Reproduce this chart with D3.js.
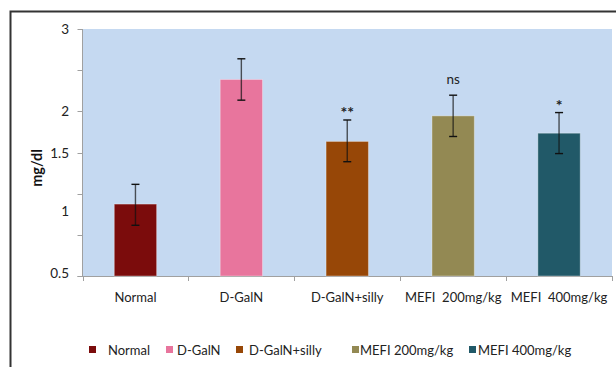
<!DOCTYPE html>
<html><head><meta charset="utf-8">
<script src="https://cdn.jsdelivr.net/npm/d3@7"></script>
<style>
html,body{margin:0;padding:0;background:#fff;}
text{font-family:Lato,"Open Sans",sans-serif;}
</style></head>
<body>
<svg id="chart" width="616" height="367"></svg>
<script>
// ---- data ----
const categories = ["Normal", "D-GalN", "D-GalN+silly", "MEFI  200mg/kg", "MEFI  400mg/kg"];
const legendLabels = ["Normal", "D-GalN", "D-GalN+silly", "MEFI 200mg/kg", "MEFI 400mg/kg"];
const means   = [1.06, 2.39, 1.64, 1.95, 1.74];
const errHigh = [1.23, 2.64, 1.90, 2.20, 1.99];
const errLow  = [0.885, 2.14, 1.425, 1.70, 1.495];
const sigMarks = ["", "", "**", "ns", "*"];
const yTickValues = [0.5, 1, 1.5, 2, 3];
const colors = ["#7b0c0c", "#e8759d", "#974707", "#938953", "#215968"];

// ---- layout ----
const svg = d3.select("#chart");
const pL = 82.5, pR = 612, pT = 29, pB = 276;
const H = pB - pT;
// label positions as fractions of plot height (the original axis is non-uniform)
const labelFrac = [0.012, 0.263, 0.498, 0.665, 1];

// outer frame
svg.append("path").attr("d", `M10.5,367 L10.5,11.5 L616,11.5`)
  .attr("fill", "none").attr("stroke", "#333").attr("stroke-width", 2);

const x = d3.scaleBand().domain(categories).range([pL, pR])
  .paddingInner(0.6).paddingOuter(0.3);
const y = d3.scaleLinear().domain(yTickValues)
  .range(labelFrac.map(f => pB - f * H));

// plot area
svg.append("rect").attr("x", pL).attr("y", pT)
  .attr("width", pR - pL).attr("height", H).attr("fill", "#c5d9f1");

// axes
const axisColor = "#a0a0a0";
svg.append("line").attr("x1", pL).attr("x2", pL).attr("y1", pT).attr("y2", pB)
  .attr("stroke", axisColor);
svg.append("line").attr("x1", pL - 5).attr("x2", pR).attr("y1", pB + 0.5).attr("y2", pB + 0.5)
  .attr("stroke", axisColor);
// equally spaced major tick marks on y
d3.range(7).forEach(i => {
  const yy = Math.round(pB - i * H / 6) + 0.5;
  svg.append("line").attr("x1", pL - 5).attr("x2", pL).attr("y1", yy).attr("y2", yy)
    .attr("stroke", axisColor);
});
// y labels
svg.append("g").selectAll("text").data(yTickValues).join("text")
  .attr("x", 69).attr("y", d => y(d)).attr("dy", "0.35em")
  .attr("text-anchor", "end").attr("font-size", 13.5).attr("fill", "#222")
  .text(d => d);
// x tick marks at band boundaries
const step = x.step();
d3.range(categories.length + 1).forEach(i => {
  const xx = Math.round(pL + i * step) + 0.5;
  svg.append("line").attr("x1", xx).attr("x2", xx).attr("y1", pB).attr("y2", pB + 5)
    .attr("stroke", axisColor);
});
svg.append("g").selectAll("text").data(categories).join("text")
  .attr("x", d => x(d) + x.bandwidth() / 2).attr("y", 297.5).attr("dy", "0.35em")
  .attr("text-anchor", "middle").attr("font-size", 13).attr("fill", "#222")
  .attr("xml:space", "preserve").style("white-space", "pre")
  .text(d => d);

// y title
svg.append("text").attr("transform", "translate(37,168) rotate(-90)")
  .attr("text-anchor", "middle").attr("dy", "0.35em")
  .attr("font-size", 14.5).attr("font-weight", "bold").attr("fill", "#111")
  .text("mg/dl");

// bars
svg.append("g").selectAll("rect").data(categories).join("rect")
  .attr("x", d => x(d)).attr("width", x.bandwidth())
  .attr("y", (d, i) => y(means[i])).attr("height", (d, i) => pB - y(means[i]))
  .attr("fill", (d, i) => colors[i])
  .attr("stroke", "rgba(255,255,255,0.35)").attr("stroke-width", 1);

// error bars
const eg = svg.append("g").attr("stroke", "#111").attr("stroke-width", 1.4);
categories.forEach((c, i) => {
  const cx = x(c) + x.bandwidth() / 2;
  const y1 = y(errHigh[i]), y2 = y(errLow[i]);
  eg.append("line").attr("x1", cx).attr("x2", cx).attr("y1", y1).attr("y2", y2).attr("stroke-opacity", 0.7);
  eg.append("line").attr("x1", cx - 4).attr("x2", cx + 4).attr("y1", y1).attr("y2", y1);
  eg.append("line").attr("x1", cx - 4).attr("x2", cx + 4).attr("y1", y2).attr("y2", y2);
});

// significance marks
svg.append("g").selectAll("text").data(categories).join("text")
  .attr("x", d => x(d) + x.bandwidth() / 2)
  .attr("y", (d, i) => y(errHigh[i]) - (sigMarks[i] === "ns" ? 11 : 2))
  .attr("text-anchor", "middle")
  .attr("font-size", (d, i) => sigMarks[i] === "ns" ? 13.5 : 16)
  .attr("font-weight", (d, i) => sigMarks[i] === "ns" ? "normal" : "bold")
  .attr("fill", "#222")
  .text((d, i) => sigMarks[i]);

// legend
const legendX = [89, 166, 236, 352, 469];
const legendGap = [19, 11, 13, 8, 9];
const lg = svg.append("g");
legendLabels.forEach((l, i) => {
  lg.append("rect").attr("x", legendX[i]).attr("y", 346).attr("width", 7).attr("height", 7)
    .attr("fill", colors[i]);
  lg.append("text").attr("x", legendX[i] + legendGap[i]).attr("y", 350)
    .attr("dy", "0.35em").attr("font-size", 13).attr("fill", "#222").text(l);
});
</script>
</body></html>
